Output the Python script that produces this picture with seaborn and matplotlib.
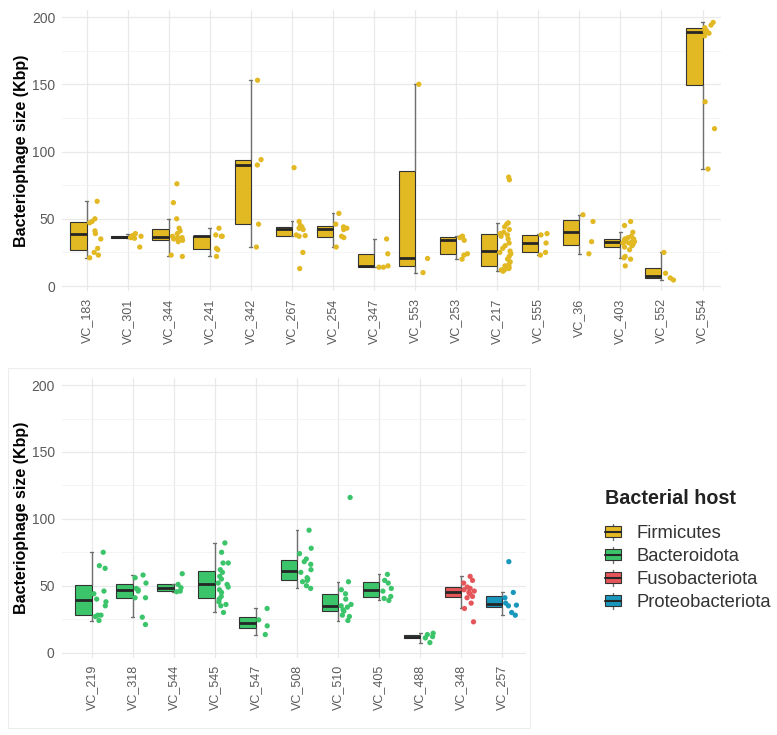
import numpy as np
import pandas as pd
import matplotlib
matplotlib.use("Agg")
import matplotlib.pyplot as plt
import seaborn as sns
from matplotlib.patches import Rectangle, Patch
from matplotlib.lines import Line2D
from matplotlib.legend_handler import HandlerBase
from matplotlib.ticker import MultipleLocator

# ---------------- data ----------------
host_names = ["Firmicutes", "Bacteroidota", "Fusobacteriota", "Proteobacteriota"]
host_colors = ["#E2B823", "#3CC46A", "#E4565A", "#1997BD"]

top_clusters = ["VC_183", "VC_301", "VC_344", "VC_241", "VC_342", "VC_267", "VC_254", "VC_347",
                "VC_553", "VC_253", "VC_217", "VC_555", "VC_36", "VC_403", "VC_552", "VC_554"]
top_hosts = ["Firmicutes"] * 16

vc_183 = [21, 23, 25, 28, 35, 39, 41, 47, 48, 50, 63]
vc_301 = [29, 35.5, 36, 36.5, 37, 37.5, 39]
vc_344 = [22, 23, 33, 34, 35, 36, 36, 37, 39, 41, 43, 50, 62, 76]
vc_241 = [22, 27, 28, 37, 37, 38, 43]
vc_342 = [29, 46, 90, 94, 153]
vc_267 = [13, 25, 37, 37.5, 38, 42, 43, 43, 44, 45, 48, 88]
vc_254 = [29, 36, 37, 42, 43, 44, 46, 54]
vc_347 = [14, 14, 15, 24, 35]
vc_553 = [10, 20.5, 150]
vc_253 = [20, 23, 24, 34, 36, 37, 37]
vc_217 = [11, 12, 12, 13, 13, 14, 14, 15, 16, 18, 20, 22, 24, 25, 26, 28, 30, 32, 35,
          37, 38, 39, 40, 42, 44, 46, 47, 79, 81]
vc_555 = [23, 25, 32, 38, 39]
vc_36 = [24, 33, 48, 53]
vc_403 = [15, 20, 21, 22, 27, 29, 30, 31, 32, 32, 33, 33, 33, 34, 34, 35, 35, 36, 37, 40, 45, 48]
vc_552 = [4.5, 6, 9.5, 25]
vc_554 = [87, 117, 137, 186, 188, 189, 190, 192, 194, 196]
top_series = [vc_183, vc_301, vc_344, vc_241, vc_342, vc_267, vc_254, vc_347,
              vc_553, vc_253, vc_217, vc_555, vc_36, vc_403, vc_552, vc_554]

bottom_clusters = ["VC_219", "VC_318", "VC_544", "VC_545", "VC_547", "VC_508", "VC_510",
                   "VC_405", "VC_488", "VC_348", "VC_257"]
bottom_hosts = ["Bacteroidota"] * 9 + ["Fusobacteriota", "Proteobacteriota"]

vc_219 = [24, 27, 28, 28, 35, 38, 40, 44, 46, 63, 65, 75]
vc_318 = [21, 26.5, 41, 41, 46, 47, 48, 52, 56, 58]
vc_544 = [45.5, 46, 48.5, 51, 59]
vc_545 = [30, 35, 36, 38, 40, 42, 45, 47, 49, 51, 52, 55, 57, 60, 62, 67, 67, 75, 82]
vc_547 = [13.5, 20, 24.5, 33]
vc_508 = [48, 50, 53, 54, 55, 56, 60, 62, 66, 68, 70, 74, 78, 91.5]
vc_510 = [24, 27, 28, 31, 32, 34, 35, 36, 40, 44, 47, 53, 116]
vc_405 = [39, 40.5, 42, 46, 48, 52, 54, 58.5]
vc_488 = [7.5, 11, 12, 13.5, 14.5]
vc_348 = [23, 33, 37, 41, 42, 44, 45, 46, 47, 48, 49, 52, 54, 57]
vc_257 = [28, 30, 35, 35.5, 37, 41, 45, 68]
bottom_series = [vc_219, vc_318, vc_544, vc_545, vc_547, vc_508, vc_510,
                 vc_405, vc_488, vc_348, vc_257]

y_ticks = [0, 50, 100, 150, 200]
y_label = "Bacteriophage size (Kbp)"
legend_title = "Bacterial host"


def build_frame(clusters, hosts, series):
    rows = []
    for c, h, vals in zip(clusters, hosts, series):
        for v in vals:
            rows.append({"cluster": c, "host": h, "size": v,
                         "box_side": "box", "pt_side": "pts"})
    return pd.DataFrame(rows)


top_df = build_frame(top_clusters, top_hosts, top_series)
bottom_df = build_frame(bottom_clusters, bottom_hosts, bottom_series)
color_of = dict(zip(host_names, host_colors))

# ---------------- style ----------------
sns.set_theme(style="white")
plt.rcParams["font.family"] = ["Liberation Sans", "DejaVu Sans"]
np.random.seed(7)

W, H = 777, 735
fig = plt.figure(figsize=(W / 100, H / 100), dpi=100)
ax_top = fig.add_axes([0.0799, 0.6035, 0.848, 0.3825])
ax_bot = fig.add_axes([0.0794, 0.1048, 0.5976, 0.3804])

EDGE = "#333333"
WHISK = "#6f6f6f"


def draw_panel(ax, df, order):
    for host in [h for h in host_names if h in set(df["host"])]:
        sub = df[df["host"] == host]
        col = color_of[host]
        # half box (left of the tick)
        sns.boxplot(data=sub, x="cluster", y="size", order=order,
                    hue="box_side", hue_order=["box", "pts"],
                    palette={"box": col, "pts": col}, saturation=1,
                    dodge=True, width=0.8, gap=0, whis=1.5, showfliers=False,
                    linecolor=EDGE, linewidth=0.8,
                    medianprops=dict(color="#262626", linewidth=2.0),
                    whiskerprops=dict(visible=False), capprops=dict(visible=False),
                    legend=False, ax=ax)
        # whiskers drawn at the tick (box edge)
        sns.boxplot(data=sub, x="cluster", y="size", order=order, color=col,
                    width=0.14, whis=1.5, showbox=False, showfliers=False,
                    linecolor=WHISK, linewidth=1.0,
                    medianprops=dict(visible=False),
                    ax=ax)
        # jittered points (right of the tick)
        sns.stripplot(data=sub, x="cluster", y="size", order=order,
                      hue="pt_side", hue_order=["box", "pts"],
                      palette={"box": col, "pts": col},
                      dodge=True, jitter=0.3, size=3.8, linewidth=0,
                      legend=False, ax=ax, zorder=3)


draw_panel(ax_top, top_df, top_clusters)
draw_panel(ax_bot, bottom_df, bottom_clusters)

for ax, lim, lab_x in ((ax_top, (-0.6, 15.45), -0.0495), (ax_bot, (-0.73, 10.58), -0.0695)):
    ax.set_xlim(*lim)
    ax.set_ylim(-4, 205)
    ax.set_yticks(y_ticks)
    ax.yaxis.set_minor_locator(MultipleLocator(25))
    ax.set_facecolor("white")
    ax.set_axisbelow(True)
    ax.grid(True, which="major", color="#E9E9E9", linewidth=0.9)
    ax.grid(True, which="minor", axis="y", color="#F2F2F2", linewidth=0.6)
    for s in ax.spines.values():
        s.set_visible(False)
    ax.tick_params(axis="both", which="both", length=0)
    ax.tick_params(axis="y", labelsize=10, labelcolor="#5a5a5a", pad=5)
    ax.tick_params(axis="x", labelsize=9, labelcolor="#5a5a5a", pad=5, labelrotation=90)
    ax.set_xlabel("")
    ax.set_ylabel(y_label, fontsize=11.5, fontweight="bold", color="black")
    ax.yaxis.set_label_coords(lab_x, 0.5)

# faint frame around the lower panel
fig.patches.append(Rectangle((8 / W, 1 - 728 / H), 522 / W, 360 / H,
                             transform=fig.transFigure, fill=False,
                             edgecolor="#EDEDED", linewidth=0.8))


class BoxHandler(HandlerBase):
    def create_artists(self, legend, orig_handle, xdescent, ydescent,
                       width, height, fontsize, trans):
        col = orig_handle.get_facecolor()
        x0, y0 = -xdescent, -ydescent
        whisk = Line2D([x0 + width / 2] * 2, [y0 - 0.15 * height, y0 + 1.15 * height],
                       color=WHISK, lw=1.0, transform=trans)
        rect = Rectangle((x0, y0 + 0.05 * height), width, 0.9 * height,
                         facecolor=col, edgecolor=EDGE, lw=0.8, transform=trans)
        med = Line2D([x0, x0 + width], [y0 + 0.5 * height] * 2,
                     color="#262626", lw=1.5, transform=trans)
        return [whisk, rect, med]


fig.text(605 / W, 1 - 498 / H, legend_title, fontsize=14.2, fontweight="bold",
         color="#222222", ha="left", va="center")
handles = [Patch(facecolor=c, edgecolor=EDGE) for c in host_colors]
leg = fig.legend(handles, host_names, handler_map={Patch: BoxHandler()},
                 loc="upper left",
                 bbox_to_anchor=(605 / W, 1 - 525 / H),
                 frameon=False, fontsize=13.2, borderpad=0, borderaxespad=0,
                 handlelength=0.85, handleheight=0.65, handletextpad=0.85,
                 labelspacing=0.33)
for t in leg.get_texts():
    t.set_color("#333333")

fig.savefig("out.png", dpi=100)
